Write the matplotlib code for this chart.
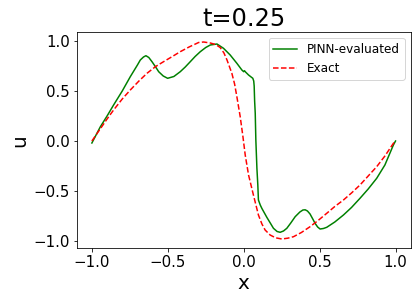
import numpy as np
import matplotlib
matplotlib.use('Agg')
import matplotlib.pyplot as plt

# Solución PINN
x_pinn = [-1.0, -0.944, -0.9, -0.857, -0.8, -0.747, -0.70, -0.681, -0.66, -0.644,
          -0.625, -0.604, -0.58, -0.56, -0.53, -0.501, -0.46, -0.418, -0.385, -0.352,
          -0.32, -0.286, -0.25, -0.22, -0.176, -0.133, -0.089, -0.045, -0.012, 0.0,
          0.005, 0.012, 0.032, 0.06, 0.066, 0.069, 0.072, 0.076, 0.08, 0.087,
          0.093, 0.097, 0.109, 0.12, 0.153, 0.175, 0.196, 0.22, 0.24, 0.262,
          0.284, 0.31, 0.339, 0.37, 0.39, 0.405, 0.42, 0.437, 0.455, 0.47,
          0.487, 0.503, 0.525, 0.547, 0.60, 0.657, 0.71, 0.766, 0.82, 0.876,
          0.93, 0.986, 1.0]
u_pinn = [-0.02, 0.143, 0.25, 0.36, 0.50, 0.643, 0.76, 0.81, 0.84, 0.853,
          0.835, 0.793, 0.74, 0.693, 0.65, 0.627, 0.645, 0.693, 0.74, 0.793,
          0.845, 0.893, 0.935, 0.96, 0.97, 0.927, 0.86, 0.777, 0.71, 0.693,
          0.703, 0.69, 0.66, 0.627, 0.60, 0.55, 0.40, 0.277, 0.01, -0.273,
          -0.44, -0.59, -0.64, -0.675, -0.765, -0.82, -0.873, -0.905, -0.913, -0.90,
          -0.873, -0.82, -0.757, -0.71, -0.69, -0.688, -0.70, -0.73, -0.78, -0.823,
          -0.86, -0.88, -0.875, -0.863, -0.81, -0.74, -0.665, -0.573, -0.48, -0.373,
          -0.24, -0.04, 0.0]

# Solución exacta
x_exact = [-1.0, -0.95, -0.9, -0.857, -0.8, -0.747, -0.69, -0.637, -0.58, -0.528,
           -0.47, -0.418, -0.36, -0.297, -0.264, -0.22, -0.185, -0.155, -0.13, -0.11,
           -0.078, -0.06, -0.045, -0.023, -0.005, 0.01, 0.032, 0.064, 0.097, 0.12,
           0.141, 0.174, 0.21, 0.251, 0.29, 0.328, 0.38, 0.437, 0.49, 0.547,
           0.60, 0.657, 0.71, 0.766, 0.82, 0.876, 0.93, 0.986, 1.0]
u_exact = [0.0, 0.11, 0.22, 0.31, 0.42, 0.51, 0.60, 0.677, 0.745, 0.793,
           0.845, 0.893, 0.94, 0.985, 0.99, 0.98, 0.965, 0.935, 0.88, 0.81,
           0.677, 0.57, 0.443, 0.243, 0.043, -0.14, -0.34, -0.54, -0.74, -0.83,
           -0.89, -0.94, -0.968, -0.98, -0.972, -0.957, -0.915, -0.857, -0.795, -0.723,
           -0.655, -0.59, -0.52, -0.44, -0.35, -0.257, -0.15, -0.023, 0.0]

t = 0.25

fig = plt.figure(figsize=(417/72, 301/72), dpi=72)
ax = fig.add_axes([76.7/417, 1 - 248.3/301, (410.7-76.7)/417, (248.3-32)/301])

ax.plot(x_pinn, u_pinn, 'g-', lw=1.5, label='PINN-evaluated')
ax.plot(x_exact, u_exact, 'r--', lw=1.5, label='Exact')

ax.set_xlim(-1.1, 1.1)
ax.set_ylim(-1.073, 1.09)
ax.set_xticks([-1.0, -0.5, 0.0, 0.5, 1.0])
ax.set_yticks([-1.0, -0.5, 0.0, 0.5, 1.0])
ax.tick_params(labelsize=15)

ax.set_title(f't={t}', fontsize=24)
ax.set_xlabel('x', fontsize=20)
ax.set_ylabel('u', fontsize=20)
ax.legend(loc='upper right', fontsize=12)

fig.savefig('out.png', dpi=72)
